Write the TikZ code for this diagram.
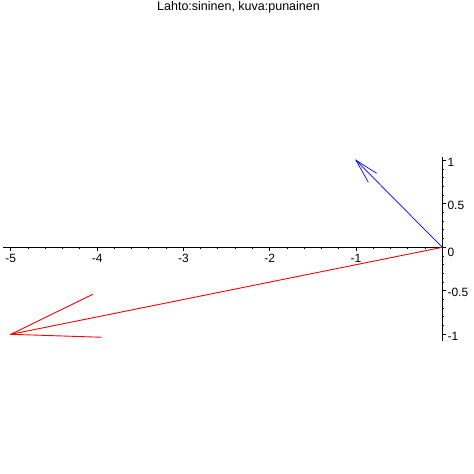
\documentclass[tikz,border=0pt]{standalone}
\usepackage{fontspec}
\setmainfont{Liberation Sans}
\begin{document}
\begin{tikzpicture}[x=1pt,y=-1pt,
  axisline/.style={line width=0.9pt,black},
  majortick/.style={line width=0.9pt,black},
  minortick/.style={line width=0.9pt,black},
  ticklabel/.style={font=\fontsize{12}{14}\selectfont,inner sep=0pt},
  titlelabel/.style={font=\fontsize{12.5}{15}\selectfont,inner sep=0pt},
  bluevec/.style={line width=0.7pt,blue},
  redvec/.style={line width=0.9pt,red}]
\useasboundingbox (0,0) rectangle (474,474);
\node[titlelabel] (title) at (238.5,7.5) {Lahto:sininen, kuva:punainen};
\begin{scope}[shift={(442.3,247.3)},x=86.3pt,y=87pt]
  % axes
  \coordinate (xl) at (-5.09,0);
  \coordinate (xr) at (0.045,0);
  \coordinate (yt) at (0,1.034);
  \coordinate (yb) at (0,-1.074);
  \draw[axisline] (xl) -- (xr);
  \draw[axisline] (yb) -- (yt);
  % x ticks
  \foreach \i in {-5,...,0} {
    \draw[majortick] (\i,0) -- ++(0,-4pt);
  }
  \foreach \i in {-4.8,-4.6,...,-0.1} {
    \draw[minortick] (\i,0) -- ++(0,-1.8pt);
  }
  \foreach \i in {-5,-4,-3,-2,-1} {
    \node[ticklabel,anchor=north] (xlab\i) at ([yshift=-7pt]\i,0) {\i};
  }
  % y ticks
  \foreach \j in {-1,-0.5,0,0.5,1} {
    \draw[majortick] (0,\j) -- ++(4pt,0);
  }
  \foreach \j in {-0.9,-0.8,-0.7,-0.6,-0.4,-0.3,-0.2,-0.1,0.1,0.2,0.3,0.4,0.6,0.7,0.8,0.9} {
    \draw[minortick] (0,\j) -- ++(1.8pt,0);
  }
  \node[ticklabel,anchor=west] (ylab1) at ([xshift=5pt,yshift=-2pt]0,1) {1};
  \node[ticklabel,anchor=west] (ylab05) at ([xshift=5pt,yshift=-2pt]0,0.5) {0.5};
  \node[ticklabel,anchor=west] (ylab0) at ([xshift=5pt,yshift=-5pt]0,0) {0};
  \node[ticklabel,anchor=west] (ylabm05) at ([xshift=5pt,yshift=-2pt]0,-0.5) {-0.5};
  \node[ticklabel,anchor=west] (ylabm1) at ([xshift=5pt,yshift=-2pt]0,-1) {-1};
  % vectors
  \coordinate (o) at (0,0);
  \coordinate (bt) at (-1,1);
  \coordinate (bb1) at (-0.76,0.85);
  \coordinate (bb2) at (-0.857,0.747);
  \draw[bluevec] (o) -- (bt);
  \draw[bluevec] (bb1) -- (bt) -- (bb2);
  \coordinate (rt) at (-5,-1);
  \coordinate (rb1) at (-4.05,-0.54);
  \coordinate (rb2) at (-3.947,-1.034);
  \draw[redvec] (o) -- (rt);
  \draw[redvec] (rb1) -- (rt) -- (rb2);
\end{scope}
\end{tikzpicture}
\end{document}
